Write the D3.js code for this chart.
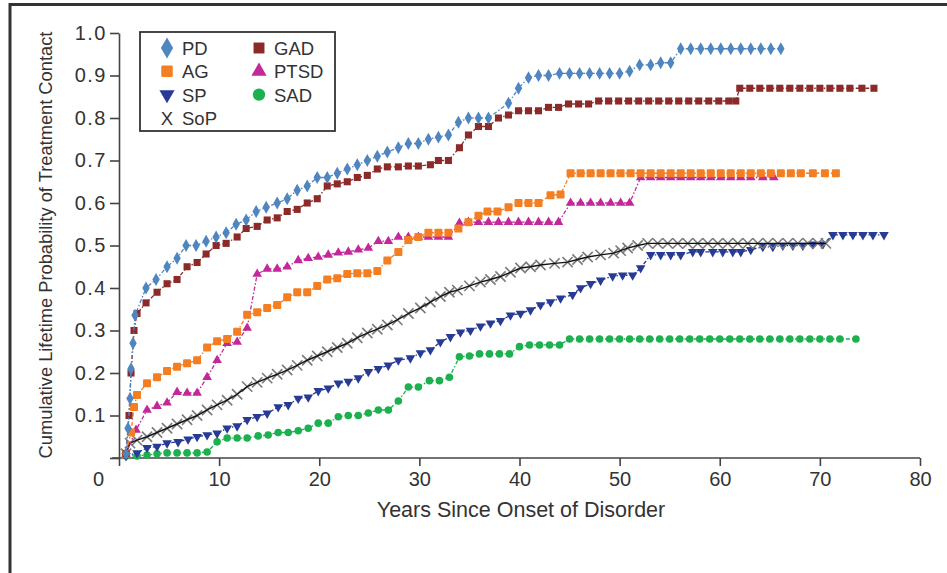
<!DOCTYPE html>
<html><head><meta charset="utf-8">
<script src="https://cdn.jsdelivr.net/npm/d3@7"></script>
<style>
html,body{margin:0;padding:0;background:#fff;}
svg text{font-family:"Liberation Sans",Arial,sans-serif;fill:#333;}
</style></head>
<body><svg id="c" width="947" height="573"></svg>
<script>
// ---- data (years since onset, cumulative probability) ----
const xTicks = [0,10,20,30,40,50,60,70,80];
const xTickLabels = ["0","10","20","30","40","50","60","70","80"];
const yTicks = [0,0.1,0.2,0.3,0.4,0.5,0.6,0.7,0.8,0.9,1.0];
const yTickLabels = ["","0.1","0.2","0.3","0.4","0.5","0.6","0.7","0.8","0.9","1.0"];
const seriesNames = ["PD","GAD","AG","PTSD","SP","SAD","SoP"];

const PD = [[0.7,0.01],[0.9,0.07],[1.1,0.14],[1.2,0.21],[1.4,0.27],[1.6,0.336],[2.7,0.40],[3.7,0.42],[4.8,0.45],[5.8,0.47],[6.7,0.50],[7.7,0.50],[8.7,0.51],[9.7,0.52],[10.7,0.53],[11.7,0.55],[12.7,0.56],[13.7,0.58],[14.7,0.59],[15.8,0.60],[16.8,0.61],[17.8,0.63],[18.8,0.64],[19.8,0.66],[20.8,0.66],[21.8,0.67],[22.8,0.68],[23.8,0.69],[24.8,0.70],[25.8,0.71],[26.8,0.72],[27.9,0.73],[28.9,0.74],[29.9,0.74],[30.9,0.75],[31.9,0.755],[32.9,0.76],[33.9,0.79],[34.9,0.80],[35.9,0.80],[36.9,0.80],[38.9,0.835],[39.9,0.87],[40.9,0.895],[41.9,0.90],[42.9,0.90],[44.0,0.905],[45.0,0.905],[46.0,0.905],[47.0,0.905],[48.0,0.905],[49.0,0.905],[50.0,0.905],[51.0,0.91],[52.0,0.925],[53.1,0.925],[54.1,0.93],[55.1,0.93],[56.1,0.963],[57.1,0.963],[58.1,0.963],[59.1,0.963],[60.1,0.963],[61.1,0.963],[62.1,0.963],[63.1,0.963],[64.1,0.963],[65.1,0.963],[66.1,0.963]];

const GAD = [[0.7,0.01],[1.0,0.10],[1.2,0.20],[1.5,0.30],[1.8,0.34],[2.7,0.365],[3.8,0.39],[4.8,0.41],[5.8,0.42],[6.8,0.45],[7.8,0.46],[8.7,0.48],[9.7,0.50],[10.7,0.505],[11.8,0.52],[12.7,0.54],[13.8,0.545],[14.8,0.56],[15.8,0.565],[16.8,0.58],[17.8,0.585],[18.8,0.60],[19.8,0.61],[20.8,0.64],[21.8,0.645],[22.8,0.65],[23.8,0.66],[24.8,0.665],[25.8,0.68],[26.8,0.685],[27.9,0.685],[28.9,0.687],[29.9,0.687],[31.1,0.69],[31.9,0.70],[32.9,0.70],[34.0,0.73],[34.9,0.76],[35.9,0.78],[36.9,0.78],[37.9,0.80],[38.9,0.807],[39.9,0.817],[40.9,0.817],[41.9,0.817],[42.9,0.825],[43.9,0.825],[44.9,0.833],[45.9,0.833],[46.9,0.833],[47.9,0.84],[48.9,0.84],[49.9,0.84],[50.9,0.84],[51.9,0.84],[52.9,0.84],[53.9,0.84],[54.9,0.84],[55.9,0.84],[56.9,0.84],[57.9,0.84],[58.9,0.84],[59.9,0.84],[60.9,0.84],[61.6,0.84],[62.0,0.87],[63.0,0.87],[64.0,0.87],[65.0,0.87],[66.0,0.87],[67.0,0.87],[68.0,0.87],[69.0,0.87],[70.0,0.87],[71.0,0.87],[72.0,0.87],[73.0,0.87],[74.2,0.87],[75.4,0.87]];

const AG = [[0.7,0.01],[1.2,0.06],[1.5,0.12],[1.8,0.148],[2.8,0.176],[3.8,0.19],[4.8,0.205],[5.8,0.215],[6.8,0.223],[7.8,0.23],[8.8,0.26],[9.8,0.275],[10.8,0.28],[11.8,0.297],[12.8,0.337],[13.8,0.343],[14.8,0.353],[15.8,0.36],[16.8,0.378],[17.8,0.39],[18.8,0.39],[19.8,0.405],[20.8,0.42],[21.8,0.423],[22.8,0.433],[23.8,0.435],[24.8,0.435],[25.8,0.44],[26.8,0.465],[27.9,0.485],[28.9,0.513],[29.9,0.52],[30.9,0.53],[31.9,0.53],[32.9,0.53],[33.9,0.54],[34.9,0.555],[35.9,0.57],[36.8,0.58],[37.8,0.58],[38.9,0.59],[39.9,0.60],[40.9,0.60],[41.9,0.60],[43.1,0.618],[44.1,0.62],[45.1,0.67],[46.1,0.67],[47.1,0.67],[48.1,0.67],[49.1,0.67],[50.1,0.67],[51.1,0.67],[52.1,0.67],[53.1,0.67],[54.1,0.67],[55.1,0.67],[56.1,0.67],[57.1,0.67],[58.1,0.67],[59.1,0.67],[60.1,0.67],[61.1,0.67],[62.1,0.67],[63.1,0.67],[64.1,0.67],[65.1,0.67],[66.1,0.67],[67.1,0.67],[68.1,0.67],[69.3,0.67],[70.5,0.67],[71.6,0.67]];

const PTSD = [[0.7,0.01],[1.7,0.066],[2.8,0.113],[3.8,0.122],[4.8,0.13],[5.8,0.155],[6.8,0.153],[7.8,0.153],[8.8,0.19],[9.8,0.23],[10.8,0.27],[11.8,0.273],[12.8,0.306],[13.8,0.433],[14.8,0.445],[15.8,0.445],[16.8,0.45],[17.9,0.465],[18.9,0.47],[19.9,0.473],[20.9,0.478],[21.9,0.483],[22.9,0.485],[23.9,0.49],[24.9,0.494],[25.9,0.51],[26.9,0.51],[27.9,0.52],[28.9,0.52],[29.9,0.52],[30.9,0.52],[31.9,0.52],[32.9,0.52],[34.0,0.553],[34.9,0.555],[35.9,0.555],[36.9,0.555],[37.9,0.555],[38.9,0.555],[39.9,0.555],[40.9,0.555],[41.9,0.555],[42.9,0.555],[43.9,0.555],[45.1,0.60],[46.1,0.60],[47.1,0.60],[48.1,0.60],[49.1,0.60],[50.1,0.60],[51.0,0.60],[52.1,0.66],[53.1,0.66],[54.1,0.66],[55.1,0.66],[56.1,0.66],[57.1,0.66],[58.1,0.66],[59.1,0.66],[60.1,0.66],[61.1,0.66],[62.1,0.66],[63.1,0.66],[64.3,0.66],[65.4,0.66]];

const SP = [[0.7,0.005],[1.8,0.012],[2.8,0.024],[3.8,0.027],[4.8,0.035],[5.9,0.038],[6.9,0.044],[7.8,0.05],[8.8,0.054],[9.8,0.058],[10.8,0.07],[11.8,0.075],[12.8,0.09],[13.8,0.097],[14.8,0.105],[15.9,0.12],[16.9,0.125],[17.9,0.14],[18.9,0.143],[19.9,0.158],[20.9,0.164],[21.9,0.176],[22.9,0.18],[23.9,0.188],[24.9,0.203],[25.9,0.21],[26.9,0.218],[27.9,0.23],[29.1,0.235],[30.1,0.247],[31.1,0.254],[32.1,0.273],[33.1,0.285],[34.1,0.296],[35.1,0.30],[36.1,0.31],[37.1,0.317],[38.1,0.323],[39.1,0.336],[40.1,0.34],[41.1,0.348],[42.1,0.36],[43.1,0.367],[44.1,0.376],[45.3,0.384],[46.1,0.40],[47.1,0.41],[48.1,0.418],[49.3,0.428],[50.3,0.43],[51.3,0.43],[52.1,0.447],[53.1,0.478],[54.1,0.478],[55.1,0.478],[56.1,0.478],[57.3,0.485],[58.1,0.485],[59.3,0.485],[60.3,0.485],[61.3,0.485],[62.1,0.485],[63.1,0.49],[64.3,0.497],[65.3,0.497],[66.3,0.50],[67.3,0.50],[68.3,0.50],[69.3,0.503],[70.3,0.503],[71.3,0.525],[72.3,0.525],[73.3,0.525],[74.3,0.525],[75.3,0.525],[76.4,0.525]];

const SAD = [[0.7,0.005],[1.8,0.005],[2.8,0.007],[3.8,0.01],[4.8,0.012],[5.8,0.012],[6.8,0.012],[7.8,0.012],[8.8,0.014],[9.8,0.038],[10.8,0.047],[11.8,0.047],[12.8,0.047],[13.9,0.052],[14.9,0.054],[15.9,0.06],[16.9,0.06],[17.9,0.064],[18.9,0.07],[19.9,0.082],[20.9,0.082],[21.9,0.097],[22.9,0.10],[23.9,0.10],[24.9,0.106],[25.9,0.113],[26.9,0.113],[27.9,0.134],[28.9,0.167],[29.9,0.167],[31.0,0.182],[32.0,0.182],[33.0,0.19],[34.0,0.238],[35.0,0.24],[36.0,0.245],[37.0,0.245],[38.0,0.245],[39.0,0.245],[40.0,0.262],[41.0,0.266],[42.0,0.266],[43.0,0.266],[44.0,0.266],[45.0,0.28],[46.0,0.28],[47.0,0.28],[48.0,0.28],[49.0,0.28],[50.0,0.28],[51.0,0.28],[52.0,0.28],[53.0,0.28],[54.0,0.28],[55.0,0.28],[56.0,0.28],[57.0,0.28],[58.0,0.28],[59.0,0.28],[60.0,0.28],[61.0,0.28],[62.0,0.28],[63.0,0.28],[64.0,0.28],[65.0,0.28],[66.0,0.28],[67.0,0.28],[68.0,0.28],[69.0,0.28],[70.0,0.28],[71.0,0.28],[72.0,0.28],[73.6,0.28]];

const SoP = [[0.7,0.01],[1.1,0.035],[1.8,0.042],[2.8,0.05],[3.8,0.06],[4.8,0.07],[5.8,0.08],[6.8,0.09],[7.8,0.10],[8.8,0.113],[9.8,0.125],[10.8,0.136],[11.8,0.15],[12.8,0.168],[13.8,0.178],[14.8,0.188],[15.8,0.197],[16.8,0.207],[17.8,0.218],[18.8,0.23],[19.8,0.24],[20.8,0.25],[21.8,0.26],[22.8,0.27],[23.8,0.283],[24.8,0.294],[25.8,0.303],[26.8,0.313],[27.8,0.325],[28.9,0.34],[30.1,0.353],[31.1,0.367],[32.1,0.38],[33.0,0.39],[33.8,0.395],[35.0,0.405],[36.1,0.414],[37.1,0.42],[38.1,0.427],[39.1,0.437],[40.1,0.447],[41.1,0.45],[42.1,0.454],[43.5,0.458],[44.8,0.461],[45.8,0.467],[46.8,0.473],[48.1,0.478],[49.4,0.482],[50.1,0.488],[50.8,0.494],[51.8,0.50],[52.8,0.505],[53.8,0.505],[54.8,0.505],[55.8,0.505],[56.8,0.505],[57.8,0.505],[58.8,0.505],[59.8,0.505],[60.8,0.505],[61.8,0.505],[62.8,0.505],[63.8,0.505],[64.8,0.505],[65.8,0.505],[66.8,0.505],[67.8,0.505],[68.8,0.505],[69.8,0.505],[70.6,0.505]];

const seriesData = {PD, GAD, AG, PTSD, SP, SAD, SoP};
const colors = {PD:"#4f86c0",GAD:"#8b2a28",AG:"#f47e22",PTSD:"#c2289a",SP:"#273a94",SAD:"#1db04e",SoP:"#111111"};

// ---- drawing ----
const svg = d3.select("#c");
svg.append("rect").attr("width",947).attr("height",573).attr("fill","#fff");
// frame
svg.append("path").attr("d","M10,573 L10,4.5 L947,4.5").attr("fill","none").attr("stroke","#333").attr("stroke-width",3);

const x = d3.scaleLinear().domain([0,80]).range([119,920]);
const y = d3.scaleLinear().domain([0,1]).range([458,33]);

// axes
const gx = svg.append("g").attr("transform","translate(0,458)")
  .call(d3.axisBottom(x).tickValues(xTicks).tickSize(8).tickSizeOuter(0).tickFormat((d,i)=>xTickLabels[i]));
const gy = svg.append("g").attr("transform","translate(119,0)")
  .call(d3.axisLeft(y).tickValues(yTicks).tickSize(9).tickSizeOuter(0).tickFormat((d,i)=>yTickLabels[i]));
[gx,gy].forEach(g=>{
  g.selectAll(".domain").attr("stroke","#444").attr("stroke-width",1.6);
  g.selectAll(".tick line").attr("stroke","#444").attr("stroke-width",1.6);
});
gx.select(".domain").attr("d","M112,0H920");
gx.selectAll(".tick text").attr("font-size",20).attr("fill","#333").attr("y",14)
  .attr("font-family","'Liberation Sans',Arial,sans-serif")
  .attr("dx",(d,i)=> i===0 ? -21 : 0);
gy.selectAll(".tick text").attr("font-size",20).attr("fill","#333").attr("x",-12)
  .attr("letter-spacing",1.5).attr("font-family","'Liberation Sans',Arial,sans-serif");

// axis titles
svg.append("text").attr("x",521).attr("y",517).attr("text-anchor","middle")
  .attr("font-size",21.5).text("Years Since Onset of Disorder");
svg.append("text").attr("transform","translate(52,245) rotate(-90)").attr("text-anchor","middle")
  .attr("font-size",18.3).text("Cumulative Lifetime Probability of Treatment Contact");

// symbols
const sym = {
  PD: d3.symbol(d3.symbolDiamond, 48),
  GAD: d3.symbol(d3.symbolSquare, 50),
  AG: d3.symbol(d3.symbolSquare, 36),
  PTSD: d3.symbol(d3.symbolTriangle, 40),
  SP: d3.symbol(d3.symbolTriangle, 40),
  SAD: d3.symbol(d3.symbolCircle, 45),
  SoP: d3.symbol(d3.symbolX, 70)
};
function drawMarker(sel, name){
  sel.attr("d", sym[name]());
  if(name==="SoP"){
    sel.attr("fill","none").attr("stroke","#7a7a7a").attr("stroke-width",1.6);
  } else {
    sel.attr("fill",colors[name]);
    if(name==="AG"){ sel.attr("stroke",colors[name]).attr("stroke-width",2).attr("stroke-linejoin","round"); }
  }
}

const line = d3.line().x(d=>x(d[0])).y(d=>y(d[1]));
const order = ["SAD","SP","SoP","PTSD","AG","GAD","PD"];
order.forEach(name=>{
  const data = seriesData[name];
  const g = svg.append("g");
  if(name!=="SoP"){
    g.append("path").datum(data).attr("d",line).attr("fill","none")
      .attr("stroke",colors[name]).attr("stroke-width",1.3).attr("stroke-dasharray","4,2,1.5,2");
  }
  g.selectAll("path.m").data(data).join("path").attr("class","m")
    .attr("transform",d=>`translate(${x(d[0])},${y(d[1])})${name==="SP"?" rotate(180)":""}`)
    .each(function(){ drawMarker(d3.select(this), name); });
  if(name==="SoP"){
    g.append("path").datum(data).attr("d",line).attr("fill","none")
      .attr("stroke","#111").attr("stroke-width",1.4);
  }
});

// legend
const lg = svg.append("g");
lg.append("rect").attr("x",140).attr("y",32).attr("width",195).attr("height",99)
  .attr("fill","#fff").attr("stroke","#333").attr("stroke-width",1.8);
const legendItems = [
  {name:"PD",col:0,row:0},{name:"AG",col:0,row:1},{name:"SP",col:0,row:2},{name:"SoP",col:0,row:3},
  {name:"GAD",col:1,row:0},{name:"PTSD",col:1,row:1},{name:"SAD",col:1,row:2}
];
const legSym = {
  PD: d3.symbol(d3.symbolDiamond, 130), GAD: d3.symbol(d3.symbolSquare, 120),
  AG: d3.symbol(d3.symbolSquare, 80), PTSD: d3.symbol(d3.symbolTriangle, 100),
  SP: d3.symbol(d3.symbolTriangle, 100), SAD: d3.symbol(d3.symbolCircle, 120)
};
legendItems.forEach(it=>{
  const mx = it.col===0 ? 167 : 259;
  const my = 48 + it.row*23.3;
  if(it.name==="SoP"){
    lg.append("text").attr("x",mx).attr("y",my+7).attr("text-anchor","middle")
      .attr("font-size",18.5).attr("fill","#333").text("X");
  } else {
    const p = lg.append("path").attr("d",legSym[it.name]())
      .attr("transform",`translate(${mx},${my})${it.name==="SP"?" rotate(180)":""}`)
      .attr("fill",colors[it.name]);
    if(it.name==="AG") p.attr("stroke",colors[it.name]).attr("stroke-width",2.5).attr("stroke-linejoin","round");
  }
  lg.append("text").attr("x",mx+15).attr("y",my+7).attr("font-size",18.5).attr("fill","#333").text(it.name);
});
</script></body></html>
